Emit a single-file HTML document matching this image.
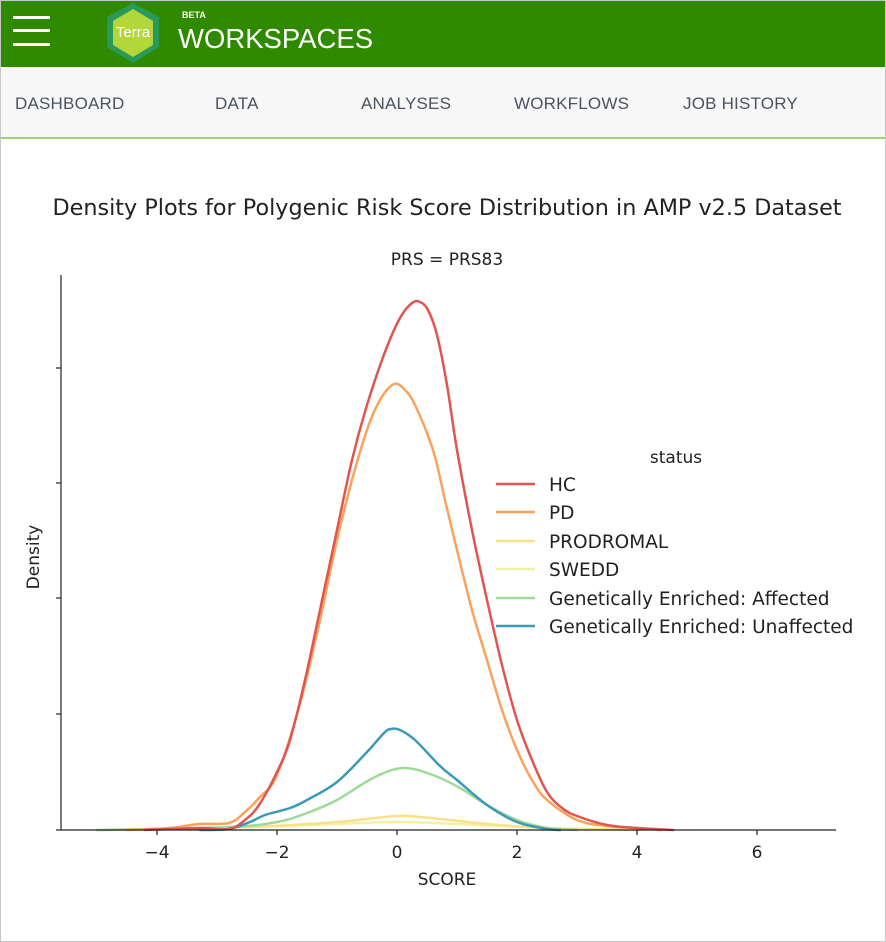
<!DOCTYPE html>
<html><head><meta charset="utf-8"><style>
body{margin:0;width:886px;height:942px;overflow:hidden;background:#fff;font-family:"Liberation Sans",sans-serif}
.frame{position:absolute;left:0;top:0;width:884px;height:940px;border:1px solid #c8c8c8}
.hdr{position:absolute;left:1px;top:1px;width:884px;height:66px;background:#2f8a00}
.nav{position:absolute;left:1px;top:67px;width:884px;height:70px;background:#f7f7f7;border-bottom:2px solid #9ed27a}
.nav span{position:absolute;top:27px;font-size:17px;color:#4a5360;letter-spacing:0.2px}
.bar{position:absolute;left:12px;width:37px;height:3px;background:#fff;border-radius:1px}
</style></head><body>
<div class="frame"></div>
<div class="hdr">
 <div class="bar" style="top:15px"></div><div class="bar" style="top:28px"></div><div class="bar" style="top:42px"></div>
 <svg style="position:absolute;left:100px;top:0" width="64" height="64"><polygon points="32,2 58,16 58,46 32,62 6,46 6,16" fill="#2a9a5a"/><polygon points="32,8 52,20 52,44 32,56 12,44 12,20" fill="#b3d63a"/><text x="32" y="36" fill="#fff" font-size="15" text-anchor="middle" font-family="Liberation Sans">Terra</text></svg>
 <div style="position:absolute;left:181px;top:9px;color:#fff;font-size:9px;font-weight:bold">BETA</div>
 <div style="position:absolute;left:177px;top:22px;color:#fff;font-size:27.5px">WORKSPACES</div>
</div>
<div class="nav">
 <span style="left:14px">DASHBOARD</span><span style="left:214px">DATA</span><span style="left:360px">ANALYSES</span><span style="left:513px">WORKFLOWS</span><span style="left:682px">JOB HISTORY</span>
</div>
<svg style="position:absolute;left:0;top:0" width="886" height="942" font-family="DejaVu Sans,sans-serif">
<text x="447" y="215" font-size="22.3" text-anchor="middle" fill="#222">Density Plots for Polygenic Risk Score Distribution in AMP v2.5 Dataset</text>
<text x="447" y="265" font-size="17" text-anchor="middle" fill="#222">PRS = PRS83</text>
<g fill="none" stroke-width="2.5" stroke-linejoin="round" stroke-linecap="round">
<polyline class="s" stroke="#f5f0a0" points="97,830 250,827 337,824 397,822 457,824 547,828 640,830"/>
<polyline class="s" stroke="#fbe08a" points="110,830 250,827 337,822 397,816 430,818 487,824 547,828 640,830"/>
<polyline class="s" stroke="#9fd99a" points="97,830 230,827 277,822 307,813 337,800 373,778 403,768 433,775 460,788 487,805 517,820 547,828 577,830"/>
<polyline class="s" stroke="#3a9ab8" points="200,830 229,829 250,822 265,815 290,808 307,800 337,782 367,752 384,733 391,729 400,730 415,740 440,766 457,780 487,805 517,822 547,829 560,830"/>
<polyline class="s" stroke="#fba25a" points="127,830 170,828 199,824 229,823 245,812 259,798 277,775 301,700 320,620 337,540 352,480 367,430 380,400 394,384 405,390 415,405 433,450 445,500 457,550 472,610 487,660 502,710 517,750 532,780 547,800 577,820 607,826 637,828 661,830"/>
<polyline class="s" stroke="#e05550" points="145,830 200,828 229,829 245,820 259,805 277,772 290,740 305,680 320,610 337,530 352,460 367,405 385,352 400,318 412,303 420,302 428,310 437,335 447,385 457,450 472,530 487,600 502,665 517,720 532,760 547,792 562,808 577,816 607,825 637,828 673,830"/>
</g>
<g stroke="#222" stroke-width="1.2" fill="none">
<line x1="61" y1="275" x2="61" y2="830"/><line x1="61" y1="830" x2="836" y2="830"/>
<line x1="56" y1="830" x2="61" y2="830"/><line x1="56" y1="714" x2="61" y2="714"/><line x1="56" y1="598" x2="61" y2="598"/><line x1="56" y1="483" x2="61" y2="483"/><line x1="56" y1="368" x2="61" y2="368"/>
<line x1="157" y1="830" x2="157" y2="835"/><line x1="277" y1="830" x2="277" y2="835"/><line x1="397" y1="830" x2="397" y2="835"/><line x1="517" y1="830" x2="517" y2="835"/><line x1="637" y1="830" x2="637" y2="835"/><line x1="757" y1="830" x2="757" y2="835"/>
</g>
<g font-size="17" fill="#222" text-anchor="middle">
<text x="157" y="858">−4</text><text x="277" y="858">−2</text><text x="397" y="858">0</text><text x="517" y="858">2</text><text x="637" y="858">4</text><text x="757" y="858">6</text>
<text x="447" y="885">SCORE</text>
<text transform="translate(39,557) rotate(-90)">Density</text>
<text x="676" y="463">status</text>
</g>
<g stroke-width="2.5">
<line x1="496" x2="535" y1="484" y2="484" stroke="#e05550"/>
<line x1="496" x2="535" y1="512" y2="512" stroke="#fba25a"/>
<line x1="496" x2="535" y1="541" y2="541" stroke="#fbe08a"/>
<line x1="496" x2="535" y1="569" y2="569" stroke="#f0f0a0"/>
<line x1="496" x2="535" y1="598" y2="598" stroke="#9fd99a"/>
<line x1="496" x2="535" y1="626" y2="626" stroke="#3a9ab8"/>
</g>
<g font-size="18.5" fill="#222">
<text x="549" y="491">HC</text><text x="549" y="519">PD</text><text x="549" y="548">PRODROMAL</text><text x="549" y="576">SWEDD</text>
<text x="549" y="605">Genetically Enriched: Affected</text><text x="549" y="633">Genetically Enriched: Unaffected</text>
</g>
</svg>
<script>
document.querySelectorAll('polyline.s').forEach(function(pl){
 var p=pl.getAttribute('points').trim().split(/\s+/).map(function(s){return s.split(',').map(Number)});
 var d='M'+p[0][0]+','+p[0][1];
 for(var i=0;i<p.length-1;i++){
  var p0=p[i-1]||p[i],p1=p[i],p2=p[i+1],p3=p[i+2]||p2;
  var c1x=p1[0]+(p2[0]-p0[0])/6,c1y=p1[1]+(p2[1]-p0[1])/6,c2x=p2[0]-(p3[0]-p1[0])/6,c2y=p2[1]-(p3[1]-p1[1])/6;
  d+=' C'+c1x+','+c1y+' '+c2x+','+c2y+' '+p2[0]+','+p2[1];
 }
 var path=document.createElementNS('http://www.w3.org/2000/svg','path');
 path.setAttribute('d',d);path.setAttribute('stroke',pl.getAttribute('stroke'));
 pl.parentNode.replaceChild(path,pl);
});
</script>
</body></html>
